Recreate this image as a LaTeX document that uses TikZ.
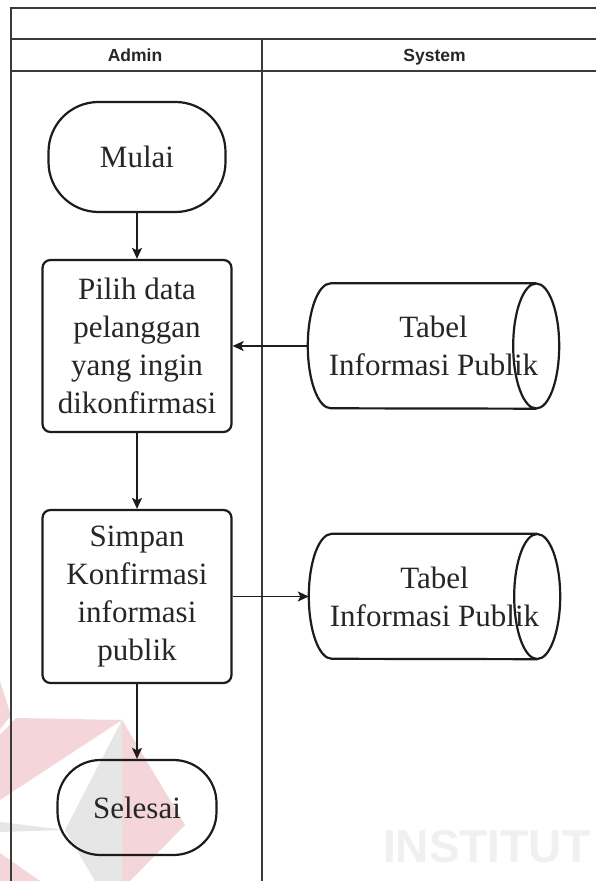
\documentclass[tikz,border=0pt]{standalone}
\usepackage{fontspec}
\setmainfont{Liberation Serif}
\newfontfamily\lanefont{Liberation Sans}
\usetikzlibrary{arrows.meta,calc}

\definecolor{wmpink}{HTML}{F4D6DA}
\definecolor{wmgray}{HTML}{E6E6E6}
\definecolor{wmtext}{HTML}{F0F0F0}
\definecolor{inkc}{HTML}{1C1C1C}
\definecolor{lanec}{HTML}{3A3A3A}

\begin{document}
\begin{tikzpicture}[x=1pt,y=1pt,
  lane/.style={draw=lanec, line width=1.4pt},
  lanehead/.style={font=\lanefont\bfseries\fontsize{17.5}{20}\selectfont, text=black!85, anchor=base, inner sep=0pt},
  label/.style={font=\fontsize{31}{38}\selectfont, text=black!85, align=center},
  terminal/.style={label, draw=inkc, line width=2.2pt, inner sep=0pt},
  procbox/.style={label, draw=inkc, line width=2.2pt, rounded corners=8pt,
    minimum width=189pt, minimum height=172pt, inner sep=0pt},
  store/.style={label, inner sep=0pt, minimum width=251pt, minimum height=125pt},
  storeline/.style={draw=inkc, line width=2.2pt},
  flow/.style={draw=inkc, line width=1.4pt, -{Stealth[length=11pt,width=10pt,inset=2.5pt]}},
  wmark/.style={fill=#1, draw=none},
]
\useasboundingbox (0,0) rectangle (596,881);
\fill[white] (0,0) rectangle (596,881);

% faint logo watermark
\fill[wmark=wmpink] (0,200) -- (11,165) -- (0,152) -- cycle;
\fill[wmark=wmpink] (0,146) -- (16,163) -- (122,161) -- (0,81) -- cycle;
\fill[wmark=wmpink] (122,161) -- (185,56) -- (130,0) -- (122,0) -- cycle;
\fill[wmark=wmgray] (122,161) -- (65,51) -- (95,0) -- (122,0) -- cycle;
\fill[wmark=wmgray] (0,59) -- (65,51) -- (0,49) -- cycle;
\fill[wmark=wmpink] (0,28) -- (40,0) -- (0,0) -- cycle;
\node[font=\lanefont\bfseries\fontsize{46}{50}\selectfont, text=wmtext,
  anchor=base west, inner sep=0pt] (wmword) at (383,19) {INSTITUT};

% swimlane frame
\draw[lane] (596,873) -- (11,873) -- (11,0);
\draw[lane] (11,842) -- (596,842);
\draw[lane] (11,810) -- (596,810);
\draw[lane] (262,842) -- (262,0);
\node[lanehead] (hadmin) at (135,819.5) {Admin};
\node[lanehead] (hsystem) at (434.5,819.5) {System};

% admin lane
\node[terminal, minimum width=177pt, minimum height=110pt, rounded corners=50pt]
  (mulai) at (137,724) {Mulai};
\node[procbox] (pilih) at (137,535) {Pilih data\\pelanggan\\yang ingin\\dikonfirmasi};
\node[procbox, minimum height=173pt] (simpan) at (137,284.5)
  {Simpan\\Konfirmasi\\informasi\\publik};
\node[terminal, minimum width=159pt, minimum height=95pt, rounded corners=43pt]
  (selesai) at (137,73.5) {Selesai};

% system lane: data stores
\node[store] (tab1) at (433.5,535) {Tabel\\Informasi Publik};
\node[store] (tab2) at (434.5,284.5) {Tabel\\Informasi Publik};
\foreach \t in {tab1,tab2}{
  \draw[storeline] ([xshift=23pt]\t.north west) -- ([xshift=-23pt]\t.north east)
    ([xshift=23pt]\t.north west) arc[start angle=90, end angle=270,
      x radius=23pt, y radius=62.5pt] -- ([xshift=-23pt]\t.south east)
    ([xshift=-23pt]\t.east) ellipse[x radius=23pt, y radius=62.5pt];
}

% flow
\draw[flow] (mulai.south) -- (pilih.north);
\draw[flow] (pilih.south) -- (simpan.north);
\draw[flow] (simpan.south) -- (selesai.north);
\draw[flow] (tab1.west) -- (pilih.east);
\draw[flow] (simpan.east) -- (tab2.west);
\end{tikzpicture}
\end{document}
